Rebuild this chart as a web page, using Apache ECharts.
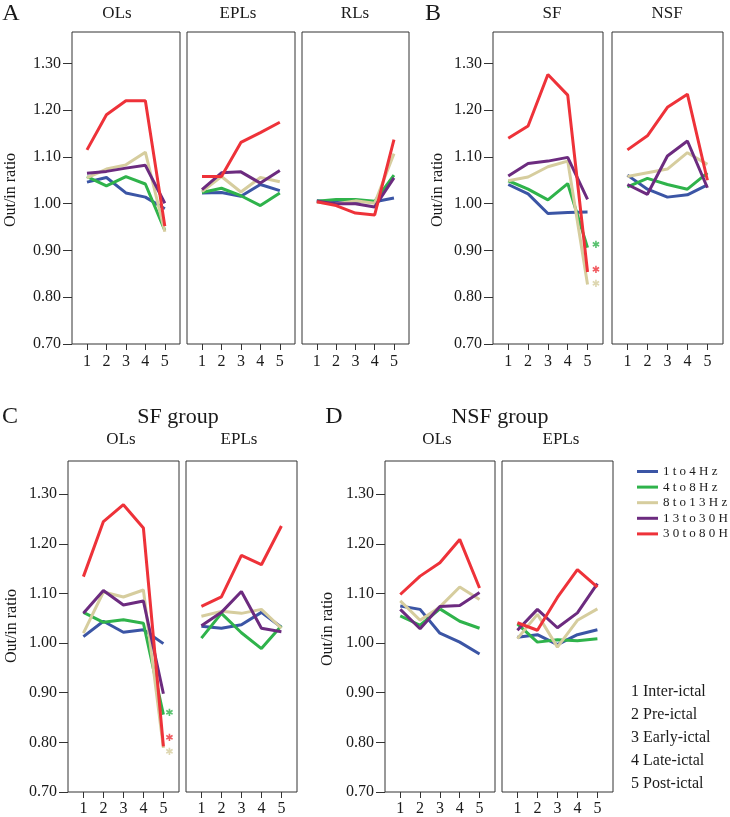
<!DOCTYPE html>
<html>
<head>
<meta charset="utf-8">
<script src="https://cdn.jsdelivr.net/npm/echarts@6/dist/echarts.min.js"></script>
<style>
html,body{margin:0;padding:0;background:#fff;}
#chart{width:730px;height:817px;}
</style>
</head>
<body>
<div id="chart"></div>
<script>
// ---- data ----
const bands = ['1 to 4 Hz', '4 to 8 Hz', '8 to 13 Hz', '13 to 30 Hz', '30 to 80 Hz'];
const phases = [1, 2, 3, 4, 5];
const phaseNames = ['Inter-ictal', 'Pre-ictal', 'Early-ictal', 'Late-ictal', 'Post-ictal'];
const yTicks = [0.70, 0.80, 0.90, 1.00, 1.10, 1.20, 1.30];

// rows: blue(1-4), green(4-8), tan(8-13), purple(13-30), red(30-80)
const A_OLs = [
  [1.046, 1.056, 1.023, 1.014, 0.989],
  [1.058, 1.038, 1.058, 1.042, 0.943],
  [1.055, 1.074, 1.083, 1.110, 0.940],
  [1.065, 1.069, 1.076, 1.082, 1.001],
  [1.115, 1.190, 1.220, 1.220, 0.952]
];
const A_EPLs = [
  [1.023, 1.024, 1.016, 1.041, 1.028],
  [1.024, 1.033, 1.017, 0.996, 1.023],
  [1.026, 1.058, 1.025, 1.056, 1.047],
  [1.030, 1.066, 1.068, 1.044, 1.071],
  [1.058, 1.058, 1.131, 1.152, 1.174]
];
const A_RLs = [
  [1.006, 1.003, 1.005, 1.004, 1.012],
  [1.005, 1.009, 1.009, 1.005, 1.061],
  [1.003, 1.000, 1.006, 1.001, 1.107],
  [1.005, 1.000, 1.000, 0.993, 1.055],
  [1.004, 0.996, 0.980, 0.976, 1.137]
];
const B_SF = [
  [1.041, 1.021, 0.979, 0.981, 0.982],
  [1.049, 1.031, 1.008, 1.043, 0.906],
  [1.049, 1.057, 1.079, 1.091, 0.827],
  [1.059, 1.086, 1.091, 1.099, 1.009],
  [1.140, 1.166, 1.276, 1.232, 0.854]
];
const B_NSF = [
  [1.061, 1.031, 1.014, 1.019, 1.040],
  [1.036, 1.054, 1.041, 1.031, 1.066],
  [1.058, 1.066, 1.074, 1.109, 1.084],
  [1.041, 1.020, 1.102, 1.134, 1.034],
  [1.115, 1.145, 1.206, 1.234, 1.050]
];
const C_OLs = [
  [1.013, 1.044, 1.022, 1.027, 0.999],
  [1.062, 1.042, 1.047, 1.040, 0.856],
  [1.020, 1.103, 1.093, 1.107, 0.789],
  [1.060, 1.106, 1.077, 1.085, 0.898],
  [1.134, 1.245, 1.279, 1.232, 0.792]
];
const C_EPLs = [
  [1.034, 1.030, 1.037, 1.062, 1.032],
  [1.010, 1.060, 1.021, 0.989, 1.035],
  [1.054, 1.064, 1.060, 1.068, 1.030],
  [1.035, 1.062, 1.104, 1.030, 1.023],
  [1.074, 1.093, 1.177, 1.158, 1.236]
];
const D_OLs = [
  [1.075, 1.068, 1.020, 1.002, 0.978],
  [1.055, 1.036, 1.069, 1.044, 1.030],
  [1.085, 1.046, 1.073, 1.113, 1.088],
  [1.068, 1.029, 1.074, 1.076, 1.102],
  [1.098, 1.135, 1.162, 1.209, 1.111]
];
const D_EPLs = [
  [1.012, 1.017, 0.997, 1.017, 1.027],
  [1.039, 1.002, 1.007, 1.005, 1.009],
  [1.009, 1.058, 0.992, 1.046, 1.069],
  [1.026, 1.068, 1.031, 1.061, 1.120],
  [1.041, 1.026, 1.092, 1.148, 1.113]
];
// significance asterisks (value level per band; null = none)
const B_SF_stars = [null, 0.911, 0.827, null, 0.857];
const C_OLs_stars = [null, 0.858, 0.780, null, 0.807];

// ---- styling / layout ----
const colors = ['#3b55a5', '#2fb34b', '#d6cd9e', '#6c2b7f', '#ee3239'];
const FONT = 'Liberation Serif';
const TXT = '#1a1a1a';
const Y_MIN = 0.70, Y_MAX = 1.367, X_MIN = 0.23, X_MAX = 5.78;

const panels = [
  {d: A_OLs, left: 72, top: 32, w: 108, h: 312, y: true},
  {d: A_EPLs, left: 187, top: 32, w: 108, h: 312},
  {d: A_RLs, left: 302, top: 32, w: 107, h: 312},
  {d: B_SF, left: 493, top: 32, w: 110, h: 312, y: true, stars: B_SF_stars, sx: 5.42},
  {d: B_NSF, left: 612, top: 32, w: 111, h: 312},
  {d: C_OLs, left: 68, top: 461, w: 111, h: 331, y: true, stars: C_OLs_stars, sx: 5.3},
  {d: C_EPLs, left: 186, top: 461, w: 111, h: 331},
  {d: D_OLs, left: 385, top: 461, w: 110, h: 331, y: true},
  {d: D_EPLs, left: 502, top: 461, w: 111, h: 331}
];

const grid = [], xAxis = [], yAxis = [], series = [];
panels.forEach((p, k) => {
  grid.push({left: p.left, top: p.top, width: p.w, height: p.h, show: true,
    borderColor: '#333', borderWidth: 1, containLabel: false, outerBoundsMode: 'none'});
  xAxis.push({type: 'value', gridIndex: k, min: X_MIN, max: X_MAX,
    axisLine: {show: false}, splitLine: {show: false},
    axisTick: {show: true, inside: false, length: 6, customValues: phases, lineStyle: {color: '#333'}},
    axisLabel: {show: true, customValues: phases, fontFamily: FONT, fontSize: 16, color: TXT,
      margin: k >= 5 ? 9 : 10, formatter: v => String(v)}});
  yAxis.push({type: 'value', gridIndex: k, min: Y_MIN, max: Y_MAX, show: !!p.y,
    axisLine: {show: false}, splitLine: {show: false},
    axisTick: {show: true, inside: false, length: 9, customValues: yTicks, lineStyle: {color: '#333'}},
    axisLabel: {show: true, customValues: yTicks, fontFamily: FONT, fontSize: 16, color: TXT,
      margin: 11, formatter: v => v.toFixed(2)}});
  p.d.forEach((vals, i) => {
    series.push({type: 'line', name: bands[i], xAxisIndex: k, yAxisIndex: k,
      data: phases.map((ph, j) => [ph, vals[j]]),
      symbol: 'none', showSymbol: false, color: colors[i],
      lineStyle: {width: 3, color: colors[i]}, z: 2 + i});
  });
  if (p.stars) {
    p.stars.forEach((v, i) => {
      if (v === null) return;
      series.push({type: 'scatter', name: bands[i], xAxisIndex: k, yAxisIndex: k,
        data: [[p.sx, v]], symbol: 'circle', symbolSize: 0.5,
        itemStyle: {color: 'rgba(0,0,0,0)'},
        label: {show: true, formatter: '\u2731', position: 'inside', color: colors[i],
          fontFamily: 'DejaVu Sans', fontSize: 10, offset: [0, 0]}, z: 10});
    });
  }
});

function txt(text, x, y, size, opts) {
  return Object.assign({type: 'text', x: x, y: y, style: {text: text, fontFamily: FONT,
    fontSize: size, fill: TXT, align: 'center', verticalAlign: 'middle'}}, opts || {});
}
const graphic = [
  txt('A', 11, 14, 24), txt('B', 433, 14, 24), txt('C', 10, 417, 24), txt('D', 334, 417, 24),
  txt('OLs', 117, 14, 17), txt('EPLs', 238, 14, 17), txt('RLs', 355, 14, 17),
  txt('SF', 552, 14, 17), txt('NSF', 667, 14, 17),
  txt('SF group', 178, 417, 22), txt('OLs', 121, 440, 17), txt('EPLs', 239, 440, 17),
  txt('NSF group', 500, 417, 22), txt('OLs', 437, 440, 17), txt('EPLs', 561, 440, 17),
  txt('Out/in ratio', 11, 190, 16, {rotation: Math.PI / 2}),
  txt('Out/in ratio', 438, 190, 16, {rotation: Math.PI / 2}),
  txt('Out/in ratio', 12, 626, 16, {rotation: Math.PI / 2}),
  txt('Out/in ratio', 328, 629, 16, {rotation: Math.PI / 2})
];
phaseNames.forEach((n, i) => {
  graphic.push({type: 'text', x: 631, y: 692 + i * 22.9, style: {text: phases[i] + ' ' + n,
    fontFamily: FONT, fontSize: 16, fill: TXT, align: 'left', verticalAlign: 'middle'}});
});

const chart = echarts.init(document.getElementById('chart'), null, {renderer: 'canvas'});
chart.setOption({
  animation: false,
  backgroundColor: '#fff',
  grid, xAxis, yAxis, series, graphic,
  legend: {data: bands.map(b => ({name: b, icon: 'rect'})), orient: 'vertical',
    left: 632, top: 460, itemWidth: 21, itemHeight: 3, itemGap: 2.6, selectedMode: false,
    formatter: n => n.replace(/ /g, '').split('').join(' '),
    textStyle: {fontFamily: FONT, fontSize: 13, color: TXT, lineHeight: 13}}
});
</script>
</body>
</html>
